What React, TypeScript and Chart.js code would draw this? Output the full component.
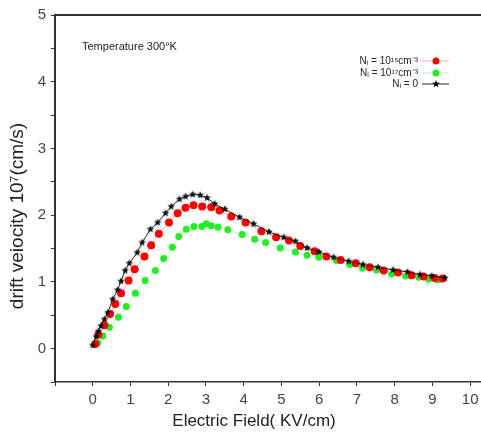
import React, { useEffect, useRef } from "react";
import { Chart, registerables } from "chart.js";
Chart.register(...registerables);

// N_I = 0 (black stars with line)
const fieldBlack = [0, 0.09, 0.15, 0.22, 0.31, 0.4, 0.53, 0.66, 0.75, 0.86, 0.97, 1.18, 1.31, 1.53, 1.72, 1.93, 2.08, 2.3, 2.46, 2.65, 2.85, 3.03, 3.23, 3.5, 3.89, 4.26, 4.67, 5.06, 5.37, 5.68, 5.99, 6.38, 6.78, 7.16, 7.56, 7.96, 8.34, 8.67, 8.98, 9.33];
const velBlack = [0.05, 0.18, 0.26, 0.34, 0.44, 0.54, 0.74, 0.88, 1.01, 1.17, 1.28, 1.44, 1.59, 1.79, 1.89, 2.03, 2.13, 2.24, 2.28, 2.31, 2.3, 2.26, 2.17, 2.09, 1.97, 1.87, 1.75, 1.67, 1.61, 1.51, 1.45, 1.37, 1.31, 1.26, 1.22, 1.18, 1.15, 1.11, 1.09, 1.06];

// N_I = 10^15 cm^-3 (red)
const fieldRed = [0.07, 0.15, 0.31, 0.46, 0.6, 0.75, 0.95, 1.11, 1.37, 1.55, 1.75, 2.02, 2.25, 2.46, 2.67, 2.9, 3.14, 3.36, 3.67, 4.05, 4.47, 4.86, 5.2, 5.5, 5.88, 6.19, 6.57, 6.97, 7.34, 7.71, 8.09, 8.45, 8.77, 9.06, 9.27];
const velRed = [0.07, 0.21, 0.35, 0.52, 0.67, 0.83, 1.02, 1.19, 1.38, 1.55, 1.72, 1.89, 2.03, 2.11, 2.15, 2.13, 2.12, 2.07, 1.98, 1.89, 1.76, 1.67, 1.62, 1.54, 1.46, 1.38, 1.33, 1.28, 1.22, 1.17, 1.14, 1.1, 1.08, 1.06, 1.05];

// N_I = 10^17 cm^-3 (green)
const fieldGreen = [0.13, 0.27, 0.44, 0.68, 0.89, 1.13, 1.39, 1.66, 1.88, 2.11, 2.28, 2.48, 2.68, 2.89, 3.01, 3.14, 3.32, 3.58, 3.96, 4.29, 4.58, 4.97, 5.37, 5.68, 5.99, 6.46, 6.81, 7.15, 7.52, 7.92, 8.29, 8.64, 8.9, 9.14];
const velGreen = [0.09, 0.19, 0.32, 0.47, 0.63, 0.83, 1.02, 1.17, 1.35, 1.52, 1.68, 1.79, 1.83, 1.83, 1.87, 1.84, 1.82, 1.78, 1.71, 1.64, 1.59, 1.51, 1.45, 1.4, 1.37, 1.32, 1.26, 1.21, 1.18, 1.12, 1.09, 1.07, 1.04, 1.03];

const xTickValues = [-1, 0, 1, 2, 3, 4, 5, 6, 7, 8, 9, 10];
const yTickValues = [-0.5, 0, 0.5, 1, 1.5, 2, 2.5, 3, 3.5, 4, 4.5, 5];

const legendLabels = ["Nᵢ = 10¹⁵cm⁻³", "Nᵢ = 10¹⁷cm⁻³", "Nᵢ = 0"];
const annotationText = "Temperature 300°K";
const xTitle = "Electric Field( KV/cm)";
const yTitle = "drift veiocity 10⁷(cm/s)";

const FONT = "'Liberation Sans', Arial, sans-serif";

function makeStar(r: number, color: string): HTMLCanvasElement {
  const c = document.createElement("canvas");
  const s = Math.ceil(r * 2 + 2);
  c.width = s;
  c.height = s;
  const ctx = c.getContext("2d")!;
  ctx.fillStyle = color;
  ctx.beginPath();
  const cx = s / 2, cy = s / 2;
  for (let i = 0; i < 10; i++) {
    const rad = i % 2 === 0 ? r : r * 0.45;
    const a = -Math.PI / 2 + (i * Math.PI) / 5;
    const px = cx + rad * Math.cos(a);
    const py = cy + rad * Math.sin(a);
    if (i === 0) ctx.moveTo(px, py);
    else ctx.lineTo(px, py);
  }
  ctx.closePath();
  ctx.fill();
  return c;
}

function zip(xs: number[], ys: number[]) {
  return xs.map((x, i) => ({ x, y: ys[i] }));
}

export default function App() {
  const ref = useRef<HTMLCanvasElement | null>(null);
  useEffect(() => {
    if (!ref.current) return;
    const star = makeStar(4, "#111");
    const markers = [
      { color: "#ff0000", line: "rgba(255,160,160,0.9)" },
      { color: "#22ee22", line: "rgba(170,255,170,0.9)" },
      { color: "#111", line: "#222" },
    ];
    const overlay = {
      id: "overlay",
      afterDraw(chart: any) {
        const ctx = chart.ctx;
        const area = chart.chartArea;
        ctx.save();
        // top frame line
        ctx.strokeStyle = "#333";
        ctx.lineWidth = 2;
        ctx.beginPath();
        ctx.moveTo(area.left - 1, area.top);
        ctx.lineTo(area.right + 20, area.top);
        ctx.stroke();
        // annotation
        ctx.fillStyle = "#222";
        ctx.font = `11px ${FONT}`;
        ctx.textAlign = "left";
        ctx.textBaseline = "middle";
        ctx.fillText(annotationText, 82, 47);
        // legend
        const rows = [61, 73, 84];
        ctx.font = `10px ${FONT}`;
        legendLabels.forEach((lab, i) => {
          const m = markers[i];
          const y = rows[i];
          ctx.fillStyle = "#222";
          ctx.textAlign = "right";
          ctx.fillText(lab, 418, y);
          ctx.strokeStyle = m.line;
          ctx.lineWidth = 1;
          ctx.beginPath();
          ctx.moveTo(422, y);
          ctx.lineTo(449, y);
          ctx.stroke();
          if (i < 2) {
            ctx.fillStyle = m.color;
            ctx.beginPath();
            ctx.arc(436, y, 3.5, 0, Math.PI * 2);
            ctx.fill();
          } else {
            ctx.drawImage(star, 436 - star.width / 2, y - star.height / 2);
          }
        });
        // axis titles
        ctx.fillStyle = "#222";
        ctx.font = `17px ${FONT}`;
        ctx.textAlign = "center";
        ctx.textBaseline = "middle";
        ctx.fillText(xTitle, 254, 421);
        ctx.font = `19px ${FONT}`;
        ctx.translate(18, 216);
        ctx.rotate(-Math.PI / 2);
        ctx.fillText(yTitle, 0, 0);
        ctx.restore();
      },
    };
    const chart = new Chart(ref.current, {
      type: "line",
      data: {
        datasets: [
          {
            label: legendLabels[2],
            data: zip(fieldBlack, velBlack),
            borderColor: markers[2].line,
            borderWidth: 1,
            pointStyle: star as any,
            pointRadius: 4,
            backgroundColor: "#111",
            tension: 0,
          },
          {
            label: legendLabels[0],
            data: zip(fieldRed, velRed),
            borderColor: markers[0].line,
            borderWidth: 1,
            pointStyle: "circle",
            pointRadius: 4,
            pointBorderWidth: 0,
            pointBackgroundColor: markers[0].color,
            tension: 0,
          },
          {
            label: legendLabels[1],
            data: zip(fieldGreen, velGreen),
            borderColor: markers[1].line,
            borderWidth: 1,
            pointStyle: "circle",
            pointRadius: 3.5,
            pointBorderWidth: 0,
            pointBackgroundColor: markers[1].color,
            tension: 0,
          },
        ],
      },
      options: {
        animation: false,
        responsive: false,
        layout: { padding: { top: 15, right: 11, left: 0, bottom: 0 } },
        plugins: { legend: { display: false }, tooltip: { enabled: false } },
        scales: {
          x: {
            type: "linear",
            min: -1,
            max: 10.5,
            afterFit: (s: any) => { s.height = 50; },
            afterBuildTicks: (s: any) => { s.ticks = xTickValues.map((v) => ({ value: v })); },
            border: { display: true, color: "#333", width: 1.5 },
            grid: { display: true, drawOnChartArea: false, drawTicks: true, tickLength: 4, color: "#333" },
            ticks: {
              autoSkip: false,
              maxRotation: 0,
              color: "#444",
              padding: 5,
              font: { family: FONT, size: 15 },
              callback: (v: any) => (Number.isInteger(v) && v >= 0 ? String(v) : ""),
            },
          },
          y: {
            type: "linear",
            min: -0.5,
            max: 5,
            afterFit: (s: any) => { s.width = 55; },
            afterBuildTicks: (s: any) => { s.ticks = yTickValues.map((v) => ({ value: v })); },
            border: { display: true, color: "#333", width: 2 },
            grid: { display: true, drawOnChartArea: false, drawTicks: true, tickLength: 4, color: "#333" },
            ticks: {
              autoSkip: false,
              color: "#444",
              padding: 5,
              font: { family: FONT, size: 15 },
              callback: (v: any) => (Number.isInteger(v) && v >= 0 ? String(v) : ""),
            },
          },
        },
      },
      plugins: [overlay],
    });
    return () => chart.destroy();
  }, []);
  return (
    <div style={{ position: "absolute", left: 0, top: 0, width: 481, height: 432, overflow: "hidden", background: "#fff" }}>
      <canvas ref={ref} width={500} height={432} style={{ display: "block" }} />
    </div>
  );
}
